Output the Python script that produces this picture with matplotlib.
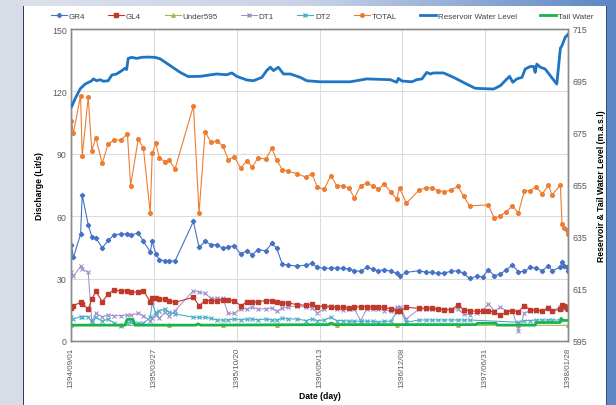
import numpy as np
import matplotlib
matplotlib.use("Agg")
import matplotlib.pyplot as plt
from matplotlib.patches import Rectangle
from matplotlib.lines import Line2D

plt.rcParams['font.family'] = ['Liberation Sans', 'DejaVu Sans']

# x positions are days counted from 1394/09/01 (Excel date axis, 207-day major unit)
tick_days = [0, 207, 414, 621, 828, 1035, 1242]
tick_labels = ['1394/09/01', '1395/03/27', '1395/10/20', '1396/05/13',
               '1396/12/08', '1397/06/31', '1398/01/28']

days = [1, 6, 24, 28, 43, 52, 62, 78, 93, 108,
        124, 141, 149, 168, 181, 198, 203, 212, 221, 235,
        245, 260, 306, 320, 335, 350, 364, 379, 393, 408,
        424, 439, 453, 467, 487, 502, 514, 528, 543, 565,
        587, 602, 616, 633, 649, 664, 679, 695, 708, 724,
        739, 754, 768, 783, 799, 814, 821, 838, 870, 888,
        903, 918, 933, 950, 967, 981, 996, 1014, 1029, 1043,
        1058, 1073, 1088, 1103, 1118, 1133, 1148, 1162, 1178, 1193,
        1202, 1223, 1227, 1232, 1239, 1242]

total = [105.9, 100.0, 117.9, 89.1, 117.2, 91.5, 97.8, 85.4, 94.7, 96.8,
         96.6, 99.5, 74.7, 97.1, 92.6, 61.5, 90.2, 95.0, 88.0, 86.1,
         87.0, 82.7, 113.1, 61.5, 100.6, 95.5, 96.2, 93.9, 87.2, 88.6,
         83.0, 86.7, 83.5, 88.0, 87.5, 92.6, 87.0, 82.4, 81.6, 80.5,
         78.7, 80.5, 73.8, 73.1, 79.5, 74.7, 74.7, 73.6, 68.6, 74.7,
         75.8, 74.7, 73.1, 75.5, 71.5, 68.3, 73.6, 66.2, 72.6, 73.6,
         73.6, 72.3, 71.8, 72.6, 74.4, 69.6, 65.0, None, None, 65.4,
         59.0, 60.2, 62.2, 65.0, 61.4, 72.3, 72.3, 74.2, 70.7, 75.0,
         70.2, 75.0, 56.3, 54.2, 53.4, 51.4]

gr4 = [46.2, 40.2, 51.4, 70.3, 55.9, 50.1, 49.7, 44.7, 48.4, 51.1,
       51.4, 51.6, 51.0, 51.9, 47.9, 42.9, 47.9, 41.8, 39.1, 38.6,
       38.5, 38.5, 57.5, 45.0, 47.9, 46.3, 46.3, 44.6, 45.2, 45.8,
       41.8, 43.4, 41.5, 43.9, 43.4, 47.0, 44.6, 37.0, 36.5, 36.0,
       36.5, 37.3, 35.4, 35.0, 35.0, 35.1, 35.0, 34.6, 33.8, 33.5,
       35.4, 34.6, 33.8, 34.3, 33.5, 32.5, 31.1, 33.0, 33.8, 33.0,
       33.0, 32.5, 32.7, 33.5, 33.8, 32.5, 30.1, 31.1, 30.9, 34.1,
       31.4, 32.2, 34.3, 36.5, 33.3, 33.5, 35.4, 35.1, 33.8, 36.2,
       33.8, 35.4, 38.1, 36.2, 35.4, 33.5]

gl4 = [15.7, 17.0, 18.6, 17.8, 15.4, 20.2, 23.9, 18.9, 22.6, 24.7,
       23.9, 24.2, 23.7, 23.4, 24.2, 18.9, 20.7, 20.7, 20.2, 20.2,
       19.4, 18.6, 21.0, 17.0, 19.4, 19.4, 19.4, 19.9, 19.7, 19.4,
       17.0, 18.6, 18.6, 18.9, 19.4, 19.4, 18.9, 18.3, 18.3, 17.5,
       17.2, 17.8, 16.4, 17.0, 16.5, 16.2, 16.2, 15.9, 16.2, 16.5,
       16.5, 16.5, 16.5, 16.2, 15.4, 14.6, 14.6, 16.2, 15.7, 15.9,
       15.7, 15.4, 15.0, 15.0, 17.3, 15.0, 14.6, 14.3, 14.3, 14.6,
       13.8, 12.5, 13.8, 14.6, 14.1, 17.0, 15.0, 14.9, 14.3, 15.7,
       14.3, 15.4, 17.3, 17.0, 16.2, 15.4]

dt1 = [33.0, 31.1, 35.9, 34.5, 33.0, 9.5, 13.3, 11.7, 12.5, 12.2,
       12.2, 12.5, 12.5, 13.3, 12.2, 9.5, 11.0, 13.8, 11.0, 13.8,
       12.0, 14.6, 24.2, 23.5, 22.9, 20.5, 20.5, 20.5, 13.3, 13.3,
       15.4, 15.4, 16.2, 15.4, 15.4, 15.9, 14.3, 15.9, 16.2, 17.0,
       16.2, 15.9, 13.5, 15.4, 17.0, 15.4, 14.9, 15.4, 15.4, 9.8,
       15.4, 15.4, 15.4, 14.6, 14.6, 16.2, 16.2, 10.6, 15.4, 15.4,
       15.4, 15.4, 15.4, 15.4, 15.4, 13.0, 12.6, 13.5, 14.9, 17.8,
       14.6, 16.2, 14.6, 14.6, 5.0, 13.3, 14.6, 14.6, 14.6, 16.2,
       14.6, 16.2, 16.2, 15.4, 15.4, 15.4]

dt2 = [11.4, 10.6, 11.7, 11.7, 11.7, 9.0, 11.4, 9.5, 10.6, 8.5,
       7.4, 8.5, 9.0, 8.5, 8.5, 11.4, 18.6, 12.6, 14.6, 15.4,
       13.8, 13.0, 11.4, 11.4, 11.4, 10.9, 10.1, 10.1, 10.1, 10.6,
       10.1, 10.6, 10.6, 10.1, 10.6, 10.1, 10.1, 10.9, 10.6, 10.6,
       9.8, 10.6, 9.8, 10.1, 11.4, 9.8, 9.8, 9.5, 9.5, 9.5,
       9.5, 9.5, 9.0, 9.5, 9.5, 13.8, 15.4, 9.0, 10.1, 10.1,
       10.1, 10.1, 10.1, 10.1, 10.1, 10.1, 10.1, None, None, None,
       None, None, None, None, 9.0, 9.8, 9.8, 10.1, 10.1, 10.1,
       10.1, 10.1, None, None, None, None]

# Under595 sits beneath the tail water line in the original
under_days = [1, 124, 245, 379, 514, 664, 814, 967, 1118, 1242]
under595 = [7.6, 7.5, 7.6, 7.5, 7.5, 7.6, 7.5, 7.5, 7.6, 7.5]

res_days = [2, 10, 23, 35, 52, 56, 64, 73, 81, 93,
            102, 114, 127, 135, 139, 143, 152, 164, 177, 189,
            210, 223, 248, 273, 293, 323, 364, 389, 402, 414,
            439, 456, 477, 489, 498, 506, 518, 531, 548, 573,
            589, 623, 698, 739, 798, 814, 818, 827, 852, 864,
            877, 889, 898, 906, 931, 956, 989, 1010, 1056, 1073,
            1085, 1096, 1104, 1114, 1127, 1135, 1148, 1156, 1160, 1164,
            1173, 1185, 1214, 1223, 1227, 1235, 1243]
res_level = [685.3, 688.1, 692.0, 693.8, 695.1, 695.8, 695.1, 695.5, 694.9, 695.1,
             697.3, 697.7, 699.0, 699.9, 699.4, 703.7, 704.1, 703.7, 704.1, 704.2,
             704.1, 703.5, 700.9, 698.3, 696.7, 696.8, 697.7, 697.4, 698.1, 696.8,
             695.4, 695.1, 696.4, 699.0, 700.3, 699.0, 700.3, 697.7, 697.7, 696.4,
             695.1, 694.7, 694.7, 695.8, 695.5, 694.5, 696.0, 695.0, 694.7, 695.5,
             695.8, 698.3, 697.7, 698.1, 698.1, 696.4, 693.8, 692.2, 691.9, 693.2,
             695.1, 696.8, 694.5, 695.8, 696.4, 699.6, 700.6, 700.6, 698.3, 701.5,
             700.3, 699.6, 693.8, 707.6, 708.6, 711.8, 713.1]

tail_days = [0, 135, 140, 155, 160, 312, 317, 325, 642, 650,
             660, 1012, 1015, 1062, 1065, 1160, 1162, 1222, 1225, 1230, 1242]
tail_level = [601.1, 601.1, 603.3, 603.3, 601.1, 601.1, 601.6, 601.1, 601.3, 601.9,
              601.3, 601.3, 601.8, 601.8, 601.1, 601.1, 602.1, 602.1, 603.7, 602.9, 602.9]


def clean(xs, ys):
    pairs = [(x, y) for x, y in zip(xs, ys) if y is not None]
    return [p[0] for p in pairs], [p[1] for p in pairs]


W, H = 616, 406
fig = plt.figure(figsize=(W / 100, H / 100), dpi=100)
fig.patch.set_facecolor('#d7dce7')

# background frame: gradient strip on top, blue band on the right, white panel
bg = fig.add_axes([0, 0, 1, 1], zorder=-10)
grad = np.linspace(0, 1, 256).reshape(1, -1)
bg.imshow(grad, aspect='auto', cmap=matplotlib.colors.LinearSegmentedColormap.from_list(
    'frame', ['#dde2ec', '#c9d3e6', '#5d86c4']), extent=[0, 1, 0, 1])
bg.set_xlim(0, 1)
bg.set_ylim(0, 1)
bg.axis('off')
bg.add_patch(Rectangle((24 / W, 0), 582 / W, 1 - 7 / H, facecolor='white',
                       edgecolor='none'))
bg.add_patch(Rectangle((0, 0), 24 / W, 1, facecolor='#d7dce7', edgecolor='none'))
bg.add_patch(Rectangle((22.5 / W, 0), 1.5 / W, 1 - 7 / H, facecolor='#2d3f66',
                       edgecolor='none'))
bg.add_patch(Rectangle((606 / W, 0), 1.2 / W, 1 - 7 / H, facecolor='#2d4f8a',
                       edgecolor='none'))

ax = fig.add_axes([71 / W, 64 / H, 497 / W, 312 / H])
ax2 = ax.twinx()

gray = '#8c8c8c'
ax.set_xlim(0, 1242)
ax.set_ylim(0, 150)
ax2.set_ylim(595, 715)
ax.set_yticks([0, 30, 60, 90, 120, 150])
ax2.set_yticks([595, 615, 635, 655, 675, 695, 715])
ax.set_xticks(tick_days)
ax.set_xticklabels(tick_labels, rotation=90)
ax.grid(True, color='#dcdcdc', linewidth=0.8)
ax.set_axisbelow(True)
for a in (ax, ax2):
    for s in a.spines.values():
        s.set_color(gray)
        s.set_linewidth(1.0)
    a.tick_params(length=0, labelsize=6.3, colors='#595959', pad=3)
ax.tick_params(axis='x', labelsize=5.8, pad=4)

x, y = clean(days, gr4)
ax.plot(x, y, color='#4472c4', lw=0.8, marker='D', ms=2.2, zorder=4)
x, y = clean(days, gl4)
ax.plot(x, y, color='#c0392b', lw=0.8, marker='s', ms=3, zorder=4)
ax.plot(under_days, under595, color='#9bbb59', lw=0.8, marker='^', ms=2.5, zorder=2)
x, y = clean(days, dt1)
ax.plot(x, y, color='#9d8ec9', lw=0.7, marker='x', ms=2.5, mew=0.8, zorder=3)
x, y = clean(days, dt2)
ax.plot(x, y, color='#4bacc6', lw=0.8, marker='x', ms=2.5, mew=0.8, zorder=3)
x, y = clean(days, total)
ax.plot(x, y, color='#ed7d31', lw=0.8, marker='o', ms=2.6, zorder=4)

ax2.plot(res_days, res_level, color='#1f74c4', lw=2.0, zorder=5)
ax2.plot(tail_days, tail_level, color='#1cb24b', lw=2.0, zorder=5)

ax.set_ylabel('Discharge (Lit/s)', fontsize=6.2, fontweight='bold', labelpad=6)
ax2.set_ylabel('Reservoir & Tail Water Level (m.a.s.l)', fontsize=6.2,
               fontweight='bold', labelpad=7)
ax.set_xlabel('Date (day)', fontsize=6.2, fontweight='bold', labelpad=3)

handles = [
    Line2D([], [], color='#4472c4', lw=0.8, marker='D', ms=2.2),
    Line2D([], [], color='#c0392b', lw=0.8, marker='s', ms=3),
    Line2D([], [], color='#9bbb59', lw=0.8, marker='^', ms=2.5),
    Line2D([], [], color='#9d8ec9', lw=0.7, marker='x', ms=2.5),
    Line2D([], [], color='#4bacc6', lw=0.8, marker='x', ms=2.5),
    Line2D([], [], color='#ed7d31', lw=0.8, marker='o', ms=2.6),
    Line2D([], [], color='#1f74c4', lw=2.0),
    Line2D([], [], color='#1cb24b', lw=2.0),
]
names = ['GR4', 'GL4', 'Under595', 'DT1', 'DT2', 'TOTAL',
         'Reservoir Water Level', 'Tail Water']
fig.legend(handles, names, loc='center', bbox_to_anchor=(322 / W, 1 - 17 / H),
           ncol=8, frameon=False, fontsize=5.8, handlelength=2.0,
           columnspacing=2.9, handletextpad=0.2, labelcolor='#404040')

fig.savefig('out.png', dpi=100)
